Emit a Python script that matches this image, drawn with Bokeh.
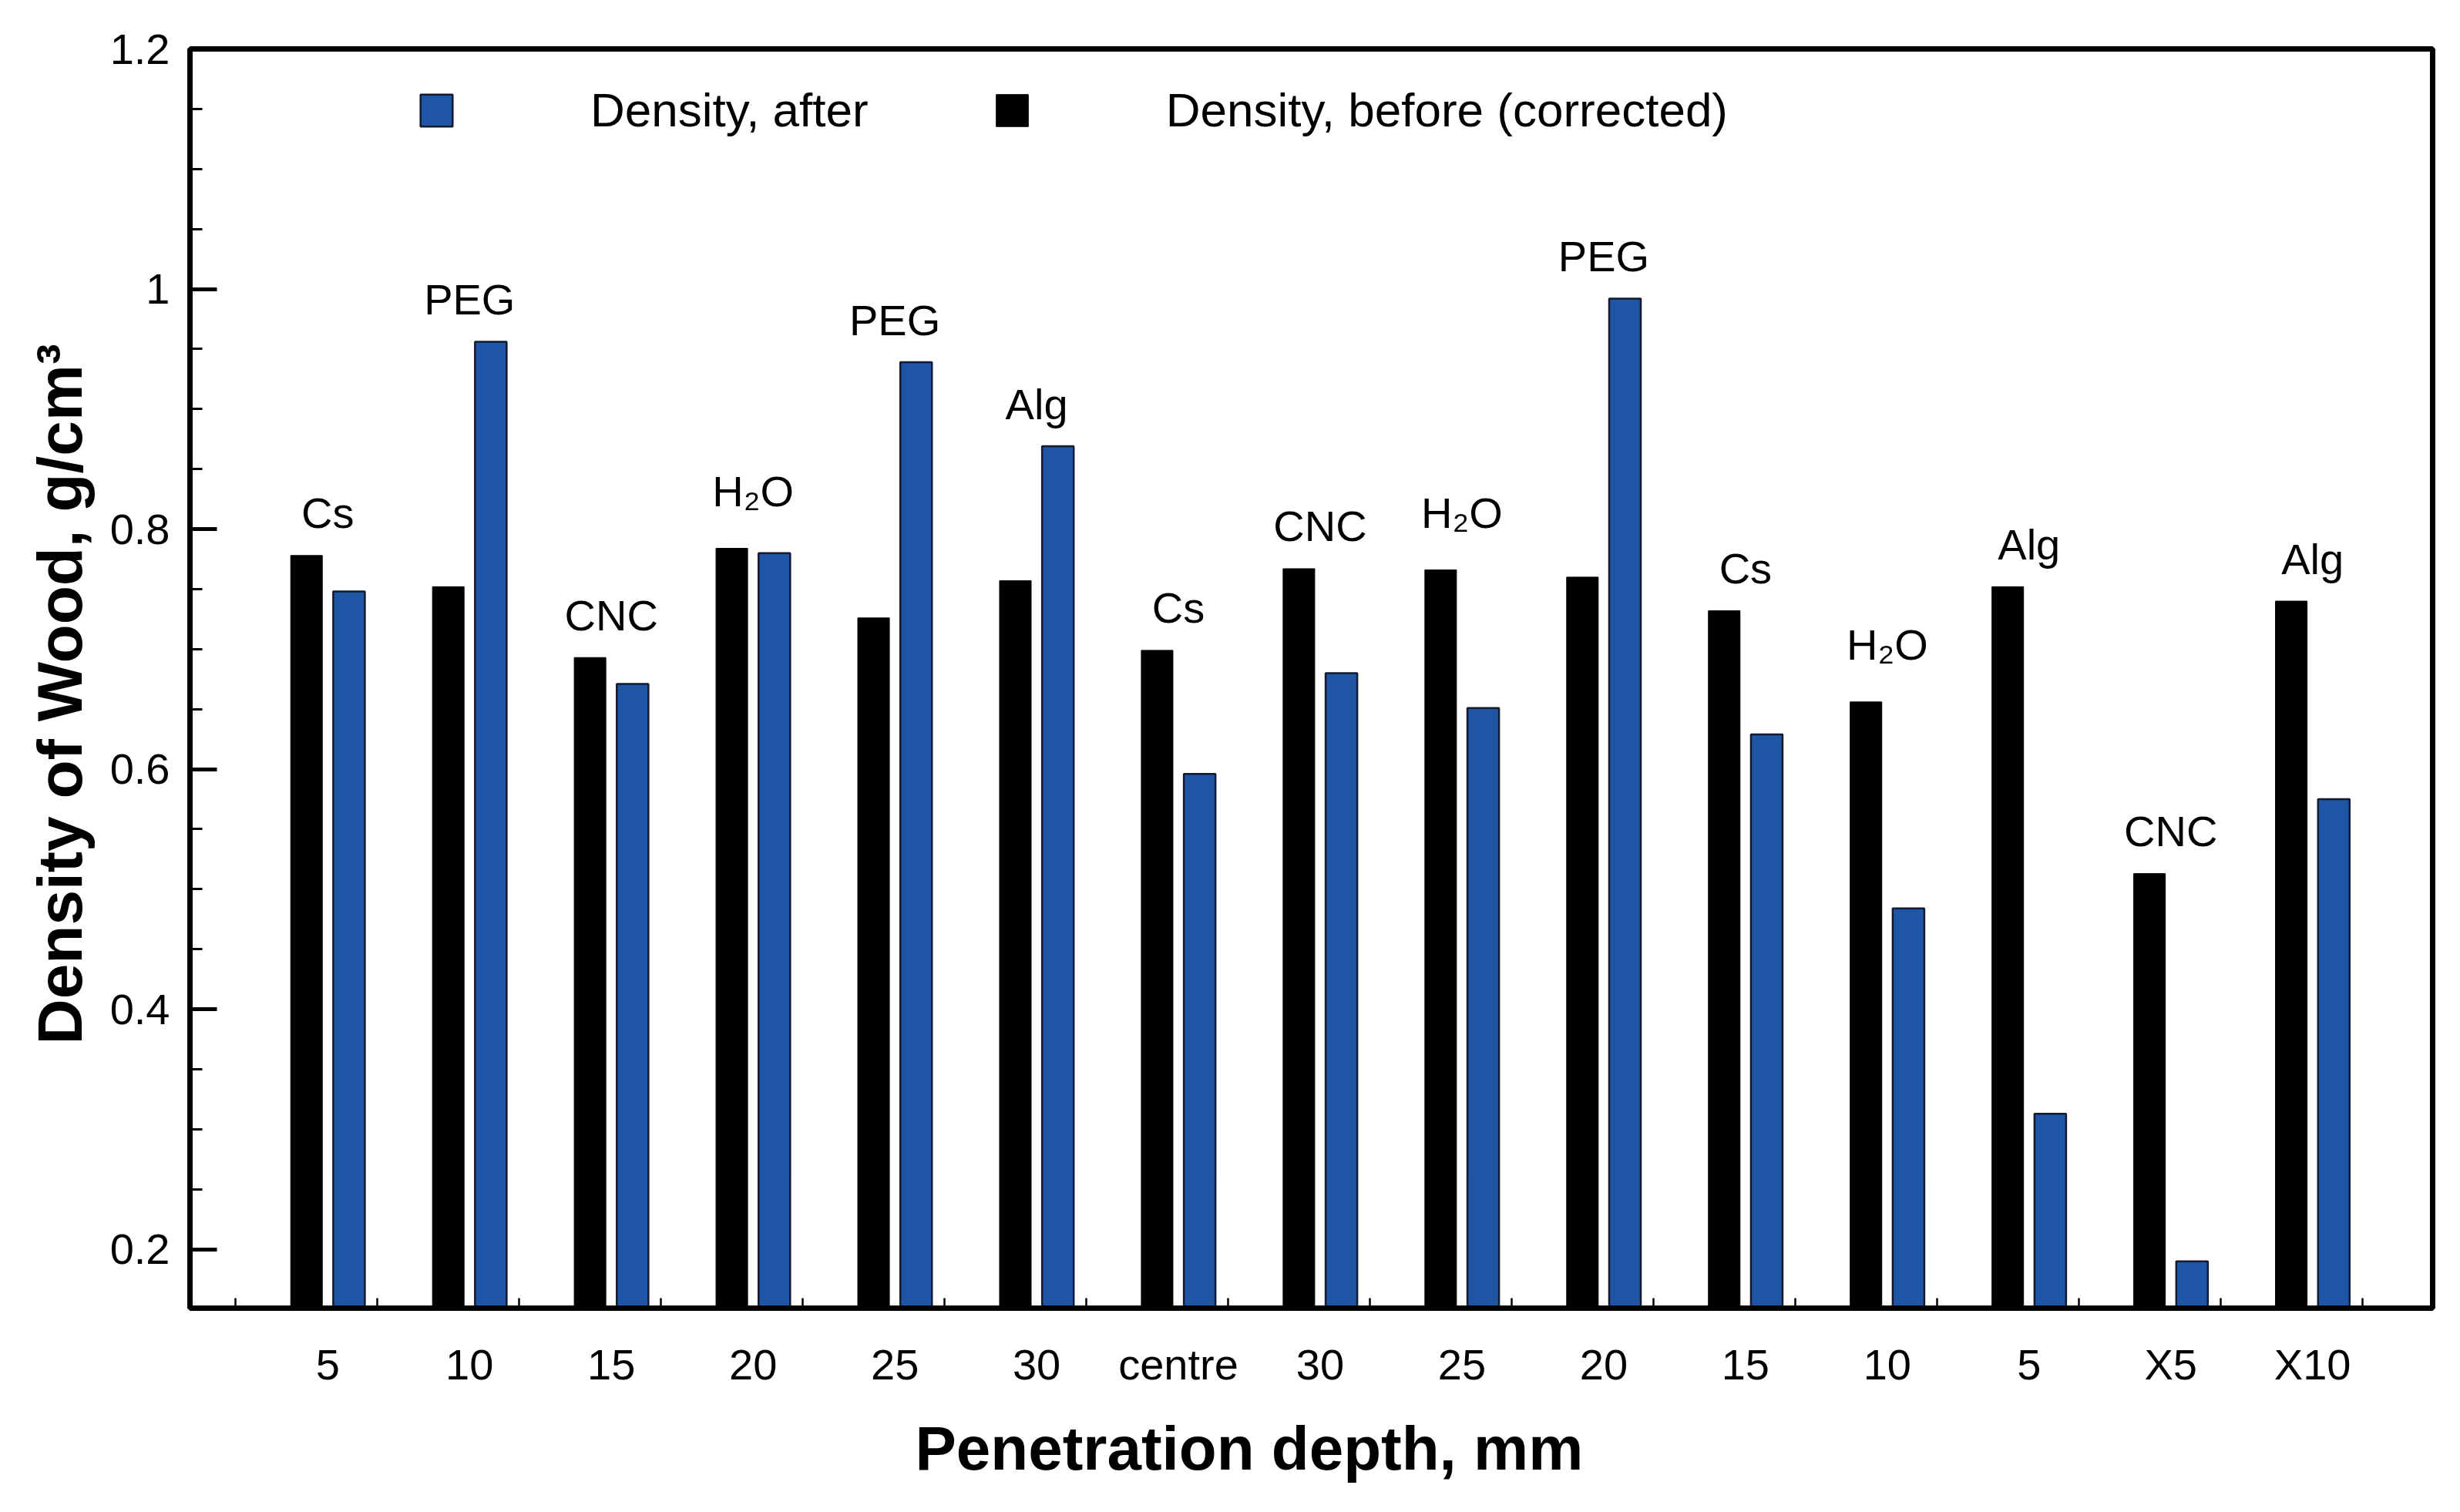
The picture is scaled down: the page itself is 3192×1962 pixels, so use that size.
from bokeh.plotting import figure
from bokeh.models import ColumnDataSource, FixedTicker, Legend, LegendItem, Range1d, Title
from bokeh.transform import dodge
from bokeh.core.properties import value
from bokeh.embed import file_html
from bokeh.resources import INLINE

# ---- data ----
depth_labels = ["5", "10", "15", "20", "25", "30", "centre", "30", "25", "20", "15", "10", "5", "X5", "X10"]
treatments = ["Cs", "PEG", "CNC", "H₂O", "PEG", "Alg", "Cs", "CNC", "H₂O", "PEG", "Cs", "H₂O", "Alg", "CNC", "Alg"]
density_before = [0.778, 0.752, 0.693, 0.784, 0.726, 0.757, 0.699, 0.767, 0.766, 0.760, 0.732, 0.656, 0.752, 0.513, 0.740]
density_after = [0.748, 0.956, 0.671, 0.780, 0.939, 0.869, 0.596, 0.680, 0.651, 0.992, 0.629, 0.484, 0.313, 0.190, 0.575]
y_ticks = [0.2, 0.4, 0.6, 0.8, 1.0, 1.2]

FONT = "Liberation Sans"
BLUE = "#1f55a5"

pos = list(range(1, len(depth_labels) + 1))
tops = [max(a, b) for a, b in zip(density_before, density_after)]
offs = [-74 if t.startswith("H") else -55 for t in treatments]

src = ColumnDataSource(dict(x=pos, before=density_before, after=density_after,
                            top=tops, label=treatments, off=offs))

p = figure(width=3176, height=1962, output_backend="svg", toolbar_location=None,
           x_range=Range1d(0.028, 15.847), y_range=Range1d(0.151, 1.2),
           min_border_left=246, min_border_right=20, min_border_top=63, min_border_bottom=265)
p.background_fill_color = "white"
p.border_fill_color = "white"
p.grid.visible = False
p.outline_line_color = "black"
p.outline_line_width = 7
p.outline_line_alpha = 1

r_before = p.vbar(x=dodge("x", -0.15), top="before", bottom=0, width=0.223, source=src,
                  fill_color="black", line_color="black", line_width=1)
r_after = p.vbar(x=dodge("x", 0.15), top="after", bottom=0, width=0.223, source=src,
                 fill_color=BLUE, line_color="#111a2e", line_width=2.5)

p.text(x="x", y="top", text="label", source=src, text_align="center",
       text_baseline="alphabetic", y_offset="off", text_font=value(FONT),
       text_font_size="56px", text_color="black")

# ---- x axis ----
xa = p.xaxis[0]
xa.ticker = FixedTicker(ticks=pos, minor_ticks=[k + 0.35 for k in range(len(pos) + 1)])
xa.major_label_overrides = {i: l for i, l in zip(pos, depth_labels)}
xa.major_tick_line_color = None
xa.minor_tick_in = 13
xa.minor_tick_out = 0
xa.minor_tick_line_width = 2.5
xa.minor_tick_line_color = "black"
xa.axis_line_width = 7
xa.axis_line_color = "black"
xa.major_label_text_font = FONT
xa.major_label_text_font_size = "56px"
xa.major_label_text_color = "black"
xa.major_label_standoff = 35

# ---- y axis ----
ya = p.yaxis[0]
minor_y = [round(0.2 + 0.05 * k, 2) for k in range(21) if k % 4]
ya.ticker = FixedTicker(ticks=y_ticks, minor_ticks=minor_y)
ya.major_label_overrides = {t: f"{t:g}" for t in y_ticks}
ya.major_tick_in = 35
ya.major_tick_out = 0
ya.major_tick_line_width = 5
ya.major_tick_line_color = "black"
ya.minor_tick_in = 16
ya.minor_tick_out = 0
ya.minor_tick_line_width = 3
ya.minor_tick_line_color = "black"
ya.axis_line_width = 7
ya.axis_line_color = "black"
ya.major_label_text_font = FONT
ya.major_label_text_font_size = "56px"
ya.major_label_text_color = "black"
ya.major_label_standoff = 26

# ---- axis titles (placed off-centre, as in the reference) ----
xt = Title(text="Penetration depth, mm", align="left", offset=941, standoff=56,
           text_font=FONT, text_font_style="bold", text_font_size="80px", text_color="black")
p.add_layout(xt, "below")
yt = Title(text="Density of Wood, g/cm³", align="left", offset=342, standoff=34,
           text_font=FONT, text_font_style="bold", text_font_size="82px", text_color="black")
p.add_layout(yt, "left")

# ---- legend ----
legend = Legend(items=[LegendItem(label="Density, after", renderers=[r_after]),
                       LegendItem(label="Density, before (corrected)", renderers=[r_before])],
                orientation="horizontal", location=(294, 1519),
                glyph_width=52, glyph_height=52, label_standoff=174, spacing=160,
                padding=0, margin=0, border_line_color=None, background_fill_alpha=0,
                label_text_font=FONT, label_text_font_size="62px", label_text_color="black",
                label_height=52)
p.add_layout(legend)

open("out.html", "w").write(file_html(p, INLINE))
